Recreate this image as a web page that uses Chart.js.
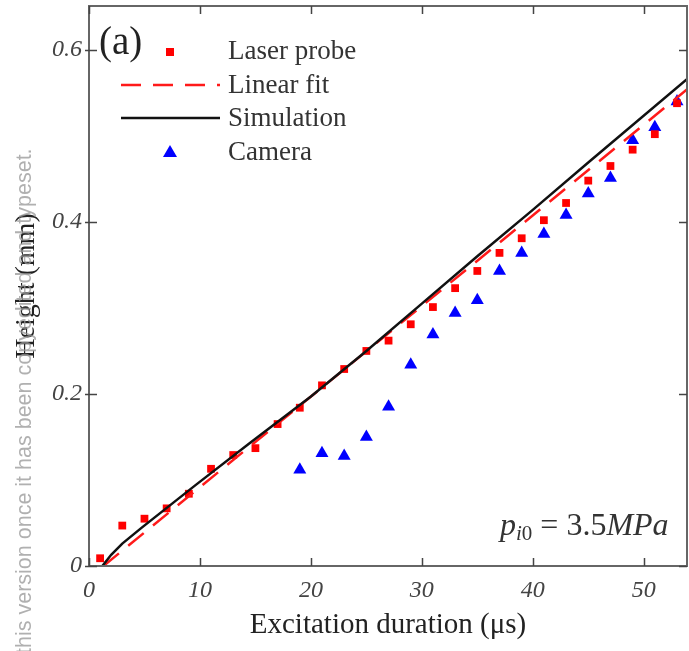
<!DOCTYPE html>
<html>
<head>
<meta charset="utf-8">
<script src="https://cdn.jsdelivr.net/npm/chart.js@4.4.1/dist/chart.umd.min.js"></script>
<style>
  html, body { margin: 0; padding: 0; background: #fff; }
  #wrap { width: 689px; height: 651px; position: relative; }
</style>
</head>
<body>
<div id="wrap"><canvas id="myChart"></canvas></div>
<script>
// data
const laserX = [1, 3, 5, 7, 9, 11, 13, 15, 17, 19, 21, 23, 25, 27, 29, 31, 33, 35, 37, 39, 41, 43, 45, 47, 49, 51, 53];
const laserY = [0.009, 0.047, 0.055, 0.067, 0.084, 0.113, 0.129, 0.137, 0.165, 0.184, 0.210, 0.229, 0.250, 0.262, 0.281, 0.301, 0.323, 0.343, 0.364, 0.381, 0.402, 0.422, 0.448, 0.465, 0.484, 0.502, 0.538];

const cameraX = [19, 21, 23, 25, 27, 29, 31, 33, 35, 37, 39, 41, 43, 45, 47, 49, 51, 53];
const cameraY = [0.112, 0.131, 0.128, 0.150, 0.185, 0.234, 0.269, 0.294, 0.309, 0.343, 0.364, 0.386, 0.408, 0.433, 0.451, 0.495, 0.510, 0.540];

const fitX = [1.3, 54];
const fitY = [0.0, 0.555];

const simX = [1.2, 2, 3, 4.7, 9.6, 14.5, 20, 25, 30, 35, 40, 45, 54];
const simY = [0.0, 0.013, 0.026, 0.044, 0.094, 0.143, 0.197, 0.250, 0.305, 0.360, 0.414, 0.469, 0.567];

const xTicks = [0, 10, 20, 30, 40, 50];
const yTicks = [0, 0.2, 0.4, 0.6];

function pts(xs, ys) {
  return xs.map((x, i) => ({ x: x, y: ys[i] }));
}

const serif = '"Liberation Serif", "DejaVu Serif", serif';
const frameColor = '#666';

// frame, inward ticks, legend and labels drawn on top
const decor = {
  id: 'decor',
  afterDraw(chart) {
    const ctx = chart.ctx;
    const a = chart.chartArea;
    const xs = chart.scales.x, ys = chart.scales.y;
    ctx.save();

    // box
    ctx.strokeStyle = frameColor;
    ctx.lineWidth = 2;
    ctx.strokeRect(a.left, a.top, a.right - a.left, a.bottom - a.top);

    // ticks pointing inward on all four sides
    ctx.lineWidth = 1.5;
    ctx.strokeStyle = '#444';
    ctx.beginPath();
    xTicks.forEach(v => {
      const px = Math.round(xs.getPixelForValue(v)) + 0.5;
      ctx.moveTo(px, a.bottom); ctx.lineTo(px, a.bottom - 8);
      ctx.moveTo(px, a.top); ctx.lineTo(px, a.top + 8);
    });
    yTicks.forEach(v => {
      const py = Math.round(ys.getPixelForValue(v)) + 0.5;
      ctx.moveTo(a.left - 4, py); ctx.lineTo(a.left + 8, py);
      ctx.moveTo(a.right, py); ctx.lineTo(a.right - 8, py);
    });
    ctx.stroke();

    // panel label
    ctx.fillStyle = '#222';
    ctx.font = '39px ' + serif;
    ctx.textBaseline = 'alphabetic';
    ctx.textAlign = 'left';
    ctx.fillText('(a)', 99, 54);

    // legend
    const ds = chart.data.datasets;
    const rows = [
      { d: ds[0], y: 52, base: 59 },
      { d: ds[1], y: 85, base: 93 },
      { d: ds[2], y: 118, base: 126 },
      { d: ds[3], y: 152, base: 160 }
    ];
    rows.forEach(r => {
      const d = r.d;
      if (d.showLine === false) {
        ctx.fillStyle = d.pointBackgroundColor;
        if (d.pointStyle === 'rect') {
          ctx.fillRect(166, r.y - 4, 8, 8);
        } else {
          ctx.beginPath();
          ctx.moveTo(170, r.y - 7);
          ctx.lineTo(177, r.y + 5);
          ctx.lineTo(163, r.y + 5);
          ctx.closePath();
          ctx.fill();
        }
      } else {
        ctx.strokeStyle = d.borderColor;
        ctx.lineWidth = d.borderWidth;
        ctx.setLineDash(d.borderDash || []);
        ctx.beginPath();
        ctx.moveTo(121, r.y);
        ctx.lineTo(220, r.y);
        ctx.stroke();
        ctx.setLineDash([]);
      }
      ctx.fillStyle = '#333';
      ctx.font = '27px ' + serif;
      ctx.fillText(d.label, 228, r.base);
    });

    // pressure annotation
    let x = 500;
    const base = 535;
    ctx.fillStyle = '#333';
    const seg = (txt, font, dy) => {
      ctx.font = font;
      ctx.fillText(txt, x, base + dy);
      x += ctx.measureText(txt).width;
    };
    seg('p', 'italic 32px ' + serif, 0);
    seg('i', 'italic 21px ' + serif, 5);
    seg('0', '21px ' + serif, 5);
    seg(' = 3.5', '32px ' + serif, 0);
    seg('MPa', 'italic 32px ' + serif, 0);

    // journal watermark running up the left edge
    ctx.save();
    ctx.translate(25, 654);
    ctx.rotate(-Math.PI / 2);
    ctx.fillStyle = 'rgba(150,150,150,0.75)';
    ctx.font = '21.5px "Liberation Sans", Roboto, sans-serif';
    ctx.textBaseline = 'middle';
    ctx.fillText('this version once it has been copyedited and typeset.', 0, 0);
    ctx.restore();

    ctx.restore();
  }
};

const ctx = document.getElementById('myChart');
new Chart(ctx, {
  type: 'scatter',
  data: {
    datasets: [
      {
        label: 'Laser probe',
        data: pts(laserX, laserY),
        showLine: false,
        pointStyle: 'rect',
        pointRadius: 5.5,
        pointBackgroundColor: '#ff0000',
        pointBorderWidth: 0,
        borderColor: '#ff0000',
        order: 3
      },
      {
        label: 'Linear fit',
        data: pts(fitX, fitY),
        showLine: true,
        borderColor: '#ff1a1a',
        borderWidth: 2.5,
        borderDash: [20, 12],
        pointRadius: 0,
        order: 2
      },
      {
        label: 'Simulation',
        data: pts(simX, simY),
        showLine: true,
        borderColor: '#111',
        borderWidth: 2.5,
        tension: 0,
        pointRadius: 0,
        order: 1
      },
      {
        label: 'Camera',
        data: pts(cameraX, cameraY),
        showLine: false,
        pointStyle: 'triangle',
        pointRadius: 7.5,
        pointBackgroundColor: '#0000ff',
        pointBorderWidth: 0,
        borderColor: '#0000ff',
        order: 4
      }
    ]
  },
  options: {
    responsive: true,
    maintainAspectRatio: false,
    animation: false,
    layout: { autoPadding: false, padding: { left: 0, right: 2, top: 6, bottom: 0 } },
    plugins: {
      legend: { display: false },
      tooltip: { enabled: false }
    },
    scales: {
      x: {
        type: 'linear',
        min: 0,
        max: 53.9,
        afterFit(s) { s.height = 85; s.paddingLeft = 0; s.paddingRight = 0; },
        afterBuildTicks(s) { s.ticks = xTicks.map(v => ({ value: v })); },
        grid: { display: false, drawTicks: false },
        border: { display: false },
        ticks: {
          padding: 10,
          color: '#444',
          font: { family: serif, size: 24, style: 'italic' },
          callback: v => String(v)
        },
        title: {
          display: true,
          text: 'Excitation duration (μs)',
          color: '#222',
          font: { family: serif, size: 29 },
          padding: { top: 0, bottom: 8 }
        }
      },
      y: {
        type: 'linear',
        min: 0,
        max: 0.651,
        afterFit(s) { s.width = 89; s.paddingTop = 0; s.paddingBottom = 0; },
        afterBuildTicks(s) { s.ticks = yTicks.map(v => ({ value: v })); },
        grid: { display: false, drawTicks: false },
        border: { display: false },
        ticks: {
          padding: 7,
          color: '#444',
          font: { family: serif, size: 24, style: 'italic' },
          callback: v => (v === 0 ? '0' : v.toFixed(1))
        },
        title: {
          display: true,
          text: 'Height (mm)',
          color: '#222',
          font: { family: serif, size: 28 },
          padding: { top: 10, bottom: 0 }
        }
      }
    }
  },
  plugins: [decor]
});
</script>
</body>
</html>
